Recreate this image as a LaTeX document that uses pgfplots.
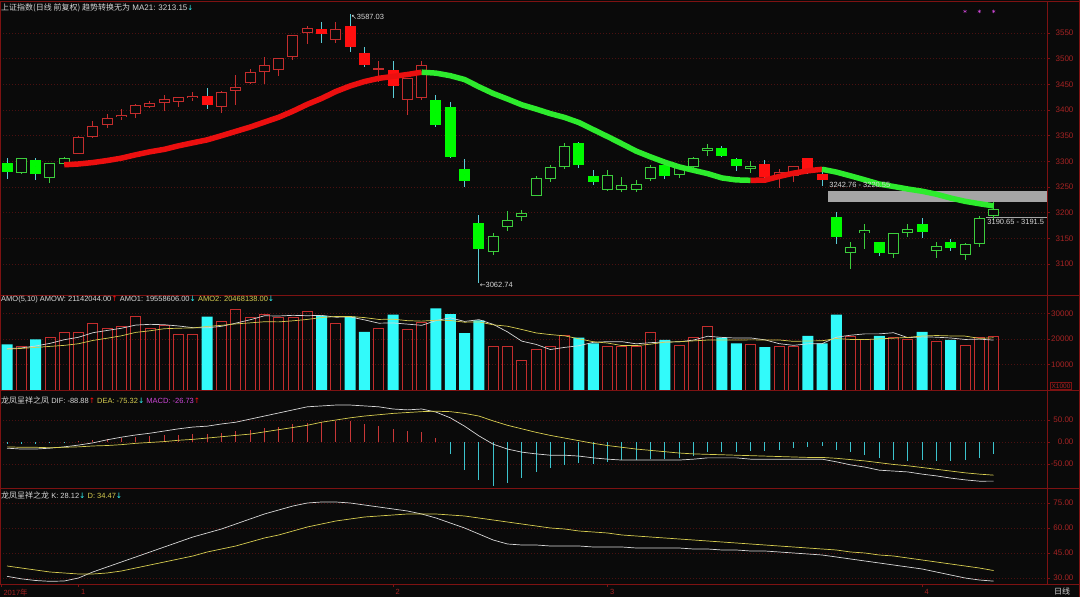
\documentclass[border=0pt]{standalone}
\usepackage{pgfplots}
\pgfplotsset{compat=1.18}
\usepackage{pgfplotstable}
\usepackage{fontspec}
\setmainfont{Liberation Sans}
\newfontfamily\cjk{Noto Sans CJK SC}
\newfontfamily\sym{DejaVu Sans}

\definecolor{bg}{RGB}{10,10,10}
\definecolor{frame}{RGB}{125,18,18}
\definecolor{gridc}{RGB}{75,16,16}
\definecolor{tickc}{RGB}{165,35,35}
\definecolor{upred}{RGB}{255,15,15}
\definecolor{holred}{RGB}{195,45,45}
\definecolor{dngreen}{RGB}{0,250,0}
\definecolor{holgreen}{RGB}{60,205,60}
\definecolor{wickc}{RGB}{90,205,215}
\definecolor{volcyan}{RGB}{50,250,250}
\definecolor{macdred}{RGB}{200,55,55}
\definecolor{macdcyan}{RGB}{60,195,205}
\definecolor{txt}{RGB}{215,215,215}
\definecolor{yel}{RGB}{215,205,80}
\definecolor{mag}{RGB}{205,70,215}
\definecolor{malred}{RGB}{235,15,15}
\definecolor{malgreen}{RGB}{45,235,45}
\definecolor{boxgray}{RGB}{165,165,165}

% daily candles: k = 0 green up, 1 green down, 2 red up, 3 red down; m = MA21
\pgfplotstableread{
i o h l c k m
0 3296 3306 3265 3280 1 3296
1 3278 3307 3275 3306 0 3295
2 3303 3306 3263 3275 1 3294
3 3268 3297 3258 3296 0 3293
4 3295 3308 3292 3307 0 3293.3
5 3314 3349 3314 3348 2 3294.8
6 3347 3379 3345 3369 2 3297.6
7 3371 3392 3365 3385 2 3301.5
8 3386 3402 3380 3391 2 3306.2
9 3392 3412 3384 3409 2 3312.7
10 3406 3417 3403 3413 2 3318.6
11 3414 3430 3398 3421 2 3323.3
12 3415 3426 3405 3425 2 3330.2
13 3423 3435 3418 3428 2 3336.1
14 3428 3442 3402 3410 3 3341.8
15 3405 3437 3395 3436 2 3349.9
16 3437 3468 3410 3444 2 3358.3
17 3453 3480 3450 3474 2 3366.7
18 3474 3504 3451 3487 2 3376.3
19 3477 3502 3467 3501 2 3385.8
20 3503 3547 3498 3546 2 3397.7
21 3549 3564 3528 3559 2 3411.0
22 3558 3571 3530 3548 3 3422.5
23 3537 3572 3530 3558 2 3436.0
24 3563 3587.03 3512 3523 3 3446.8
25 3511 3523 3484 3488 3 3455.4
26 3478 3495 3454 3481 2 3461.7
27 3478 3495 3424 3447 3 3465.4
28 3419 3463 3390 3462 2 3469.1
29 3424 3495 3420 3487 2 3473.6
30 3420 3430 3366 3370 1 3471.8
31 3405 3416 3307 3309 1 3466.8
32 3285 3305 3250 3262 1 3459.3
33 3179 3195 3062.74 3130 1 3445.2
34 3123 3160 3117 3154 0 3432.1
35 3172 3203 3165 3185 0 3421.4
36 3191 3206 3184 3199 0 3410.1
37 3232 3272 3232 3268 0 3401.8
38 3265 3292 3260 3289 0 3392.9
39 3289 3335 3285 3329 0 3385.4
40 3335 3338 3287 3292 1 3375.5
41 3272 3283 3254 3259 1 3361.8
42 3244 3283 3243 3273 0 3348.2
43 3245 3270 3240 3254 0 3334.2
44 3244 3264 3241 3256 0 3319.8
45 3265 3293 3262 3289 0 3308.7
46 3293 3297 3266 3271 1 3298.3
47 3273 3289 3268 3288 0 3289.2
48 3289 3309 3284 3307 0 3282.5
49 3321 3333 3311 3326 0 3276.0
50 3325 3329 3308 3310 1 3267.6
51 3305 3307 3282 3291 1 3263.8
52 3286 3300 3278 3291 0 3263.0
53 3295 3302 3265 3269 3 3263.3
54 3267 3285 3248 3279 2 3270.5
55 3271 3291 3260 3290 2 3276.9
56 3307 3307 3275 3280 3 3281.5
57 3276 3288 3252 3263 3 3284.5
58 3192 3201 3139 3152 1 3279.0
59 3121 3143 3091 3133 0 3271.6
60 3160 3178 3129 3166 0 3263.8
61 3143 3143 3115 3122 1 3255.7
62 3120 3161 3112 3160 0 3251.0
63 3161 3178 3152 3168 0 3246.0
64 3178 3190 3150 3163 1 3241.7
65 3125 3143 3112 3136 0 3235.9
66 3142 3148 3125 3131 1 3228.4
67 3118 3140 3108 3138 0 3222.1
68 3138 3193 3133 3190 0 3217.4
69 3194 3220 3185 3208 0 3213.15
}\price

% volume (x1000), down flag, AMO1, AMO2, MACD bar, DIF, DEA, K, D
\pgfplotstableread{
i v dn a1 a2 hist dif dea kv dv
0 17910 1 16200 16000 -5 -14 -11 31 37.2
1 17250 0 16500 16300 -4 -16 -12 29.5 36
2 19870 1 17250 16700 -5 -16 -12 28.5 34.8
3 20780 0 18280 17100 -3 -14 -13 28 33.6
4 22750 0 19710 17500 -1 -11 -12 28.2 33
5 22750 0 20680 18140 2 -7 -11 30 32.4
6 26140 0 22460 19430 4 -2 -9 33.6 32.4
7 24310 0 23350 20300 7 5 -8 36.6 33
8 25100 0 24210 21250 9 11 -6 39.6 34.2
9 29020 0 25460 22590 11 16 -3 42.6 36
10 24180 0 25750 23220 13 20 -1 45.6 37.8
11 25360 0 25590 24030 15 25 1 48.6 39.6
12 21830 0 25100 24230 17 30 4 51.6 41.4
13 21830 0 24440 24330 19 34 6 54.6 43.2
14 28760 1 24390 24930 19 36 9 57 45.6
15 27060 0 24970 25360 21 41 12 59.4 47.4
16 31640 0 26220 25910 24 45 15 62.4 49.2
17 28370 0 27530 26320 28 52 18 65.4 51.6
18 29670 0 29100 26770 32 59 23 68.4 54
19 28370 0 29020 26710 35 66 28 70.8 55.8
20 28370 0 29280 27130 40 73 33 73.2 58.2
21 30850 0 29130 27680 44 80 38 75 60.6
22 29020 1 29260 28400 46 82 45 75.6 62.4
23 26140 0 28550 28830 48 84 50 75.6 64.2
24 28760 1 28630 28830 47 84 55 75 65.4
25 22750 1 27500 28390 42 82 59 73.8 66.6
26 24310 0 26200 27670 36 80 62 72.6 67.2
27 29540 1 26300 27780 29 75 65 71.4 67.8
28 23790 0 25830 27190 25 73 67 70.2 68.4
29 26410 0 25360 27000 22 75 69 68.4 68.4
30 32030 1 27220 27360 8 68 70 66 68.4
31 29800 1 28310 27260 -28 55 69 63 67.8
32 22350 1 26880 26590 -64 36 65 60 67.2
33 27320 1 27580 26710 -86 14 59 56.4 66
34 17250 0 25750 25560 -100 -5 48 52.8 64.8
35 17250 0 22790 25010 -93 -16 38 50.4 63.6
36 11640 0 19160 23740 -82 -23 30 49.8 62.4
37 15950 0 17880 22380 -68 -27 22 49.8 61.2
38 17250 0 15870 21730 -59 -30 15 49.2 60
39 21440 0 16710 21230 -52 -30 9 49.2 59.4
40 20520 1 17360 20080 -48 -32 3 49.2 58.2
41 18300 1 18690 18930 -50 -36 -3 48.6 57.6
42 17250 0 18950 18420 -45 -39 -8 48.6 57
43 17250 0 18950 17410 -41 -41 -12 48.6 55.8
44 17250 0 18110 17410 -41 -41 -16 48 55.2
45 22750 0 18560 17960 -39 -41 -19 48 54.6
46 19610 1 18820 18760 -39 -41 -22 48 54
47 17650 0 18900 18930 -36 -41 -25 48 53.4
48 20520 0 19560 19260 -32 -39 -27 47.4 52.8
49 24830 0 21070 19590 -23 -36 -28 47.4 52.2
50 20520 1 20630 19600 -23 -36 -29 46.8 51.6
51 18300 1 20360 19590 -23 -36 -30 46.8 51
52 17910 0 20420 19660 -20 -39 -31 46.2 50.4
53 16860 1 19680 19620 -20 -39 -32 46.2 49.8
54 17250 0 18170 19620 -18 -39 -33 45.6 49.2
55 17250 0 17510 19070 -14 -39 -34 45 48.6
56 21180 1 18090 19230 -11 -39 -35 44.4 48
57 18300 1 18170 19300 -9 -39 -35 43.8 47.4
58 29540 1 20700 20190 -18 -45 -37 42.6 46.8
59 21180 0 21490 19830 -23 -52 -40 41.4 45.6
60 19870 0 22010 19760 -30 -57 -43 40.2 45
61 21180 1 22010 20050 -36 -64 -47 39 43.8
62 20520 0 22460 20320 -41 -66 -51 37.8 43.2
63 19870 0 20520 20610 -43 -68 -54 36.6 42
64 22750 1 20840 21170 -41 -73 -58 35.4 40.8
65 19220 0 20710 21360 -43 -77 -62 33.6 39.6
66 19610 1 20390 21200 -43 -82 -66 31.8 38.4
67 17650 0 19820 21140 -41 -86 -70 30 37.2
68 20520 0 19950 20240 -36 -89 -73 28.8 36
69 21140 0 19560 20470 -27 -88.88 -75.32 28.12 34.47
}\ind

\pgfplotsset{
  panel/.style={
    anchor=south west, scale only axis, width=1047pt,
    xmin=-0.49, xmax=72.73, xtick=\empty,
    axis line style={draw=frame, line width=0.9pt},
    ytick pos=right, yticklabel pos=right,
    tick align=outside, major tick length=3pt,
    tick style={draw=frame, line width=0.6pt},
    yticklabel style={font=\fontsize{8}{9}\selectfont, text=tickc, anchor=east, xshift=27pt},
    scaled y ticks=false,
    ymajorgrids, grid style={draw=gridc, dash pattern=on 1pt off 2pt, line width=0.6pt},
    clip mode=individual,
  },
  wick/.style 2 args={only marks, mark=none, mark size=0pt, mark options={draw=none, fill=none},
    restrict expr to domain={\thisrow{k}}{#1},
    error bars/.cd, y dir=both, y explicit, error mark=none,
    error bar style={line width=1pt, draw=#2}},
  body/.style n args={3}{only marks, mark=none, mark size=0pt, mark options={draw=none, fill=none},
    restrict expr to domain={\thisrow{k}}{#1},
    error bars/.cd, y dir=both, y explicit, error mark=none,
    error bar style={line width=#3, draw=#2}},
}

\begin{document}
\begin{tikzpicture}
\fill[bg] (0,0) rectangle (1080pt,597pt);
\useasboundingbox (0,0) rectangle (1080pt,597pt);

% ---------- price panel ----------
\begin{axis}[panel, at={(0pt,302pt)}, height=294pt,
  ymin=3039.6, ymax=3612.3,
  ytick={3100,3150,...,3550},
  yticklabels={3100,3150,3200,3250,3300,3350,3400,3450,3500,3550}]
\addplot[fill=boxgray, draw=none] coordinates {(57.45,3220.55) (72.8,3220.55) (72.8,3242.76) (57.45,3242.76)};
\addplot[draw=boxgray, line width=0.6pt] coordinates {(68.45,3190.65) (72.73,3190.65)};
% wicks
\addplot[wick={1:1}{wickc}] table[x=i, y expr={(\thisrow{h}+\thisrow{l})/2}, y error expr={(\thisrow{h}-\thisrow{l})/2}]{\price};
\addplot[wick={3:3}{wickc}] table[x=i, y expr={(\thisrow{h}+\thisrow{l})/2}, y error expr={(\thisrow{h}-\thisrow{l})/2}]{\price};
\addplot[wick={0:0}{holgreen}] table[x=i, y expr={(\thisrow{h}+\thisrow{l})/2}, y error expr={(\thisrow{h}-\thisrow{l})/2}]{\price};
\addplot[wick={2:2}{holred}] table[x=i, y expr={(\thisrow{h}+\thisrow{l})/2}, y error expr={(\thisrow{h}-\thisrow{l})/2}]{\price};
% bodies
\addplot[body={1:1}{dngreen}{11pt}] table[x=i, y expr={(\thisrow{o}+\thisrow{c})/2}, y error expr={max(abs(\thisrow{o}-\thisrow{c})/2,0.8)}]{\price};
\addplot[body={3:3}{upred}{11pt}] table[x=i, y expr={(\thisrow{o}+\thisrow{c})/2}, y error expr={max(abs(\thisrow{o}-\thisrow{c})/2,0.8)}]{\price};
\addplot[body={0:0}{holgreen}{11pt}] table[x=i, y expr={(\thisrow{o}+\thisrow{c})/2}, y error expr={max(abs(\thisrow{o}-\thisrow{c})/2,0.8)}]{\price};
\addplot[body={2:2}{holred}{11pt}] table[x=i, y expr={(\thisrow{o}+\thisrow{c})/2}, y error expr={max(abs(\thisrow{o}-\thisrow{c})/2,0.8)}]{\price};
\addplot[body={0:0}{bg}{9pt}] table[x=i, y expr={(\thisrow{o}+\thisrow{c})/2}, y error expr={max(abs(\thisrow{o}-\thisrow{c})/2-1.95,0)}]{\price};
\addplot[body={2:2}{bg}{9pt}] table[x=i, y expr={(\thisrow{o}+\thisrow{c})/2}, y error expr={max(abs(\thisrow{o}-\thisrow{c})/2-1.95,0)}]{\price};
% MA21 trend line
\addplot[draw=malred, line width=5.5pt, line join=round, restrict x to domain=4:29] table[x=i,y=m]{\price};
\addplot[draw=malgreen, line width=5.5pt, line join=round, restrict x to domain=29:52] table[x=i,y=m]{\price};
\addplot[draw=malred, line width=5.5pt, line join=round, restrict x to domain=52:57] table[x=i,y=m]{\price};
\addplot[draw=malgreen, line width=5.5pt, line join=round, restrict x to domain=57:69] table[x=i,y=m]{\price};
\addplot[only marks, mark=asterisk, mark size=1.8pt, draw=mag] coordinates {(67,3592) (68,3592) (69,3592)};
\node[anchor=west, inner sep=0pt, font=\fontsize{7.5}{8}\selectfont, text=txt] at (axis cs:24.05,3581) {{\sym\fontsize{7}{8}\selectfont ↖}3587.03};
\node[anchor=west, inner sep=0pt, font=\fontsize{7.5}{8}\selectfont, text=txt] at (axis cs:33.05,3059) {{\sym\fontsize{7}{8}\selectfont ←}3062.74};
\node[anchor=west, inner sep=0pt, font=\fontsize{7.5}{8}\selectfont, text=txt] at (axis cs:57.5,3254) {3242.76 - 3220.55};
\node[anchor=west, inner sep=0pt, font=\fontsize{7.5}{8}\selectfont, text=txt] at (axis cs:68.55,3181) {3190.65 - 3191.5};
\end{axis}

% ---------- volume panel ----------
\begin{axis}[panel, at={(0pt,207pt)}, height=95pt, ymin=0, ymax=37255,
  ytick={10000,20000,30000}, yticklabels={10000,20000,30000}]
\addplot[ybar, bar width=11pt, bar shift=0pt, fill=volcyan, draw=none, restrict expr to domain={\thisrow{dn}}{1:1}] table[x=i,y=v]{\ind};
\addplot[ybar, bar width=10pt, bar shift=0pt, fill=none, draw=holred, line width=0.8pt, restrict expr to domain={\thisrow{dn}}{0:0}] table[x=i,y=v]{\ind};
\addplot[draw=txt, line width=0.7pt] table[x=i,y=a1]{\ind};
\addplot[draw=yel, line width=0.7pt] table[x=i,y=a2]{\ind};
\end{axis}

% ---------- MACD panel ----------
\begin{axis}[panel, at={(0pt,109pt)}, height=98pt, ymin=-104.5, ymax=118.2,
  ytick={-50,0,50}, yticklabels={-50.00,0.00,50.00}]
\addplot[ycomb, draw=macdred, line width=1pt, restrict y to domain=0:500] table[x=i,y=hist]{\ind};
\addplot[ycomb, draw=macdcyan, line width=1pt, restrict y to domain=-500:0] table[x=i,y=hist]{\ind};
\addplot[draw=txt, line width=0.7pt] table[x=i,y=dif]{\ind};
\addplot[draw=yel, line width=0.7pt] table[x=i,y=dea]{\ind};
\end{axis}

% ---------- KDJ panel ----------
\begin{axis}[panel, at={(0pt,13pt)}, height=96pt, ymin=26.4, ymax=84,
  ytick={30,45,60,75}, yticklabels={30.00,45.00,60.00,75.00},
  xtick={-0.42,5,27,42,64}, xticklabels={{2017{\cjk 年}},1,2,3,4},
  xtick pos=bottom,
  xticklabel style={font=\fontsize{7.5}{8}\selectfont, text=tickc, anchor=north west, xshift=-1pt, yshift=1pt}]
\addplot[draw=txt, line width=0.7pt] table[x=i,y=kv]{\ind};
\addplot[draw=yel, line width=0.7pt] table[x=i,y=dv]{\ind};
\end{axis}

% frame pieces to the right edge
\foreach \yy in {596,302,207,109,13}
  \draw[frame, line width=0.9pt] (1047pt,\yy pt) -- (1080pt,\yy pt);
\draw[frame, line width=0.9pt] (1079.5pt,0pt) -- (1079.5pt,597pt);

% headers
\node[anchor=west, inner sep=0pt, text=txt, font=\fontsize{8}{9}\selectfont] at (1pt,589.5pt)
  {{\cjk 上证指数(日线 前复权) 趋势转换无为} MA21: 3213.15{\color{volcyan}\sym\fontsize{7}{8}\selectfont ↓}};
\node[anchor=west, inner sep=0pt, text=txt, font=\fontsize{7.5}{8}\selectfont] at (1pt,297pt)
  {AMO(5,10) AMOW: 21142044.00{\color{upred}\sym ↑}\ AMO1: 19558606.00{\color{volcyan}\sym ↓}\ {\color{yel}AMO2: 20468138.00}{\color{volcyan}\sym ↓}};
\node[anchor=west, inner sep=0pt, text=txt, font=\fontsize{7.5}{8}\selectfont] at (1pt,197pt)
  {{\cjk\fontsize{8}{9}\selectfont 龙凤呈祥之凤} DIF: -88.88{\color{upred}\sym ↑}\ {\color{yel}DEA: -75.32}{\color{volcyan}\sym ↓}\ {\color{mag}MACD: -26.73}{\color{upred}\sym ↑}};
\node[anchor=west, inner sep=0pt, text=txt, font=\fontsize{7.5}{8}\selectfont] at (1pt,102pt)
  {{\cjk\fontsize{8}{9}\selectfont 龙凤呈祥之龙} K: 28.12{\color{volcyan}\sym ↓}\ {\color{yel}D: 34.47}{\color{volcyan}\sym ↓}};
\node[draw=frame, line width=0.6pt, inner sep=1pt, text=tickc, font=\fontsize{6.5}{7}\selectfont] at (1061pt,211pt) {X1000};
\node[text=txt, font=\cjk\fontsize{8}{9}\selectfont] at (1062pt,5.5pt) {日线};
\end{tikzpicture}
\end{document}
